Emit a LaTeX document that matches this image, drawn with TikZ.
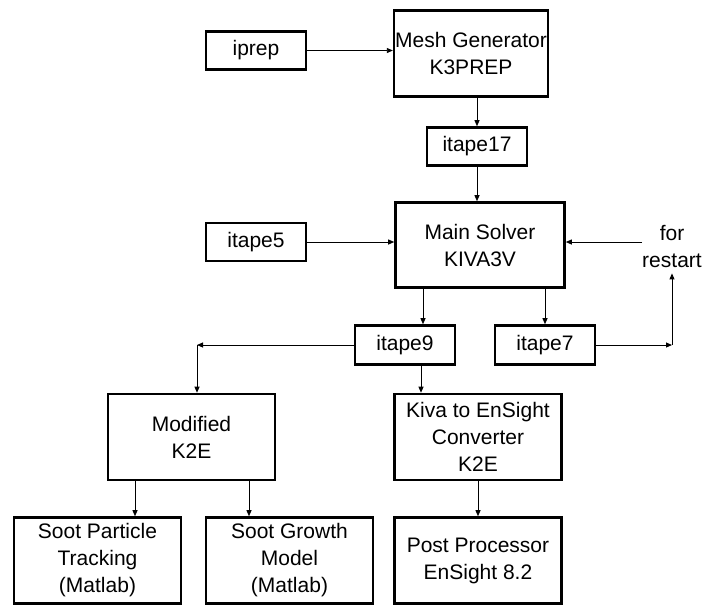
\documentclass[tikz,border=0pt]{standalone}
\usepackage{fontspec}
\setmainfont{Liberation Sans}
\usetikzlibrary{arrows.meta}
\begin{document}
\begin{tikzpicture}[
  x=1pt,y=-1pt,
  font=\fontsize{21}{27}\selectfont,
  box/.style={rectangle,draw=black,line width=2.6pt,align=center,inner sep=1pt,minimum width=167pt,minimum height=86pt},
  tape/.style={rectangle,draw=black,line width=2.6pt,align=center,inner sep=1pt,minimum width=100pt,minimum height=38pt},
  lbl/.style={align=center,inner xsep=0pt,inner ysep=6pt},
  arr/.style={-{Triangle[length=6pt,width=5pt]},line width=0.9pt}
]
\useasboundingbox (0,0) rectangle (705,606);
\node[tape] (iprep) at (256,50.5) {iprep};
\node[box,minimum width=151pt] (mesh) at (471,53.5) {Mesh Generator\\K3PREP};
\node[tape] (tape17) at (477,146.5) {itape17};
\node[box,minimum width=169pt,minimum height=85pt] (solver) at (480,245) {Main Solver\\KIVA3V};
\node[tape] (tape5) at (256,242) {itape5};
\node[lbl] (restart) at (672,246) {for\\restart};
\node[tape,minimum height=39pt] (tape9) at (405,345) {itape9};
\node[tape,minimum height=39pt] (tape7) at (545,345) {itape7};
\node[box] (modk2e) at (191.5,437) {Modified\\K2E};
\node[box] (kiva) at (478,437) {Kiva to EnSight\\Converter\\K2E};
\node[box] (tracking) at (97.5,560.5) {Soot Particle\\Tracking\\(Matlab)};
\node[box] (growth) at (289.5,560.5) {Soot Growth\\Model\\(Matlab)};
\node[box] (post) at (478,560.5) {Post Processor\\EnSight 8.2};
\coordinate (c9) at (197,345);
\coordinate (c7) at (672,345);
% inputs and tapes
\draw[arr] (iprep) -- (iprep -| mesh.west);
\draw[arr] (tape17.north |- mesh.south) -- (tape17.north);
\draw[arr] (tape17.south) -- (tape17.south |- solver.north);
\draw[arr] (tape5) -- (tape5 -| solver.west);
\draw[arr] (restart.west |- tape5) -- (solver.east |- tape5);
\draw[arr] ([xshift=-57pt]solver.south) -- ([xshift=18pt]tape9.north);
\draw[arr] (tape7.north |- solver.south) -- (tape7.north);
\draw[arr] (tape7.east) -- (c7);
\draw[arr] (c7) -- (restart.south);
% post processing
\draw[arr] (tape9.west) -- (c9);
\draw[arr] (c9) -- (c9 |- modk2e.north);
\draw[arr] ([xshift=16pt]tape9.south) -- ([xshift=-57pt]kiva.north);
\draw[arr] ([xshift=-56.5pt]modk2e.south) -- ([xshift=37.5pt]tracking.north);
\draw[arr] ([xshift=57.5pt]modk2e.south) -- ([xshift=-40.5pt]growth.north);
\draw[arr] (kiva.south) -- (post.north);
\end{tikzpicture}
\end{document}
